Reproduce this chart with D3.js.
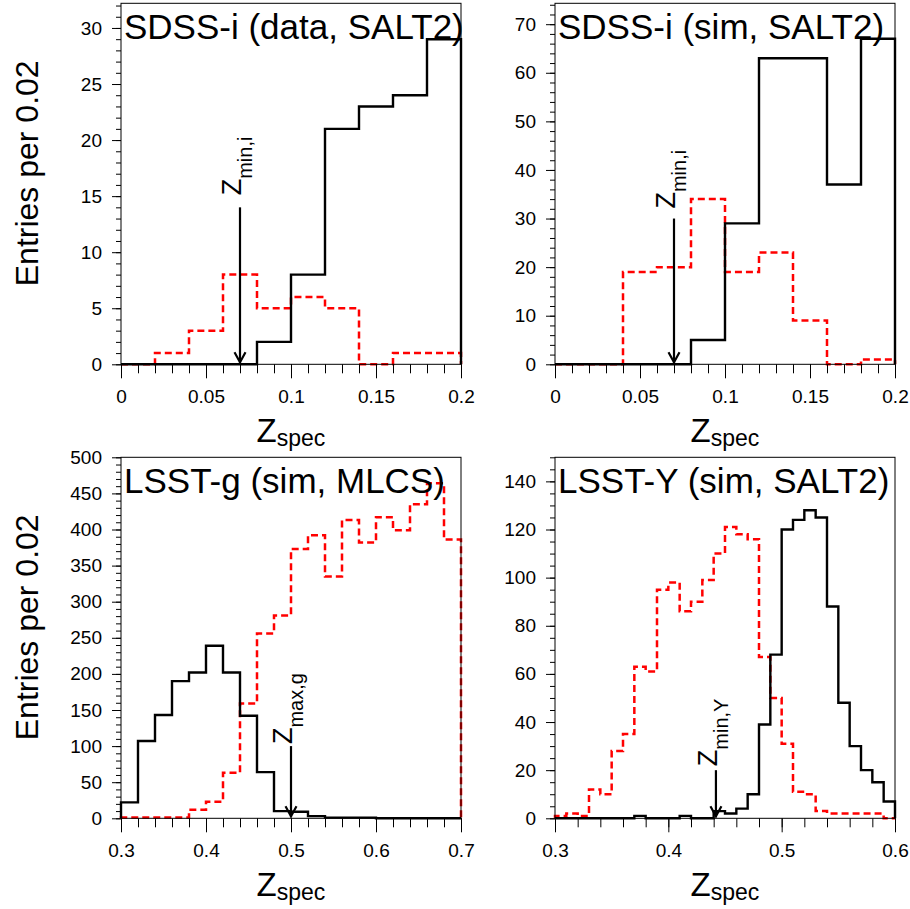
<!DOCTYPE html>
<html><head><meta charset="utf-8">
<script src="https://cdn.jsdelivr.net/npm/d3@7/dist/d3.min.js"></script>
<style>
body{margin:0;background:#fff}
svg{display:block}
text{font-family:"Liberation Sans",Arial,Helvetica,sans-serif;fill:#000}
</style>
</head><body>
<svg id="chart" width="910" height="909"></svg>
<script>
// ---------------- data ----------------
const panelTitles = ["SDSS-i (data, SALT2)", "SDSS-i (sim, SALT2)", "LSST-g (sim, MLCS)", "LSST-Y (sim, SALT2)"];
const xDomains = [[0, 0.2], [0, 0.2], [0.3, 0.7], [0.3, 0.6]];
const yMaxima = [32.2, 74.3, 500, 150];
const binWidths = [0.02, 0.02, 0.02, 0.01];

// black solid histograms
const sdssDataBlack = [0, 0, 0, 0, 2, 8, 21, 23, 24, 29];
const sdssSimBlack  = [0, 0, 0, 0, 5, 29, 63, 63, 37, 67];
const lsstGBlack    = [22, 107, 143, 190, 202, 239, 202, 142, 64, 10, 9, 3, 1, 1, 1, 0, 0, 0, 0, 0];
const lsstYBlack    = [0, 0, 0, 0, 0, 0, 0, 1, 0, 0, 0, 1, 0, 0, 3, 2, 4, 10, 39, 68, 120, 124, 128, 125, 88, 48, 30, 20, 15, 7];
// red dashed histograms
const sdssDataRed = [0, 1, 3, 8, 5, 6, 5, 0, 1, 1];
const sdssSimRed  = [0, 0, 19, 20, 34, 19, 23, 9, 0, 1];
const lsstGRed    = [1, 1, 1, 1, 12, 23, 63, 159, 256, 281, 373, 392, 335, 413, 382, 417, 399, 435, 464, 386];
const lsstYRed    = [1, 2, 1, 12, 10, 28, 35, 63, 61, 95, 98, 86, 90, 99, 110, 121, 118, 116, 67, 50, 31, 11, 10, 3, 2, 2, 2, 2, 2, 0];

// cut arrows
const cutValues = [0.07, 0.07, 0.5, 0.442];
const arrowTops = [14, 30, 100, 20];
const cutSubscripts = ["min,i", "min,i", "max,g", "min,Y"];

// tick labels
const xTicks = [[0, 0.05, 0.1, 0.15, 0.2], [0, 0.05, 0.1, 0.15, 0.2], [0.3, 0.4, 0.5, 0.6, 0.7], [0.3, 0.4, 0.5, 0.6]];
const xMinorSteps = [0.01, 0.01, 0.02, 0.02];
const yTicks = [[0, 5, 10, 15, 20, 25, 30], [0, 10, 20, 30, 40, 50, 60, 70], [0, 50, 100, 150, 200, 250, 300, 350, 400, 450, 500], [0, 20, 40, 60, 80, 100, 120, 140]];
const yMinorSteps = [1, 2, 10, 5];
const yAxisTitle = "Entries per 0.02";
const xAxisTitleMain = "Z";
const xAxisTitleSub = "spec";

const blackSeries = [sdssDataBlack, sdssSimBlack, lsstGBlack, lsstYBlack];
const redSeries = [sdssDataRed, sdssSimRed, lsstGRed, lsstYRed];

// ---------------- layout ----------------
const frames = [
  {x: 121, y: 3.3, w: 340, h: 361},
  {x: 555, y: 3.3, w: 340, h: 361},
  {x: 121, y: 457.3, w: 340, h: 361},
  {x: 555, y: 457.3, w: 340, h: 361}
];
const labelGaps = [12, 10, 2, 4];

const svg = d3.select("#chart");

function minorValues(dom, step) {
  const out = [];
  const n = Math.round((dom[1] - dom[0]) / step);
  for (let i = 0; i <= n; i++) out.push(+(dom[0] + i * step).toFixed(6));
  return out;
}

frames.forEach((f, p) => {
  const g = svg.append("g").attr("transform", `translate(${f.x},${f.y})`);
  const x = d3.scaleLinear().domain(xDomains[p]).range([0, f.w]);
  const y = d3.scaleLinear().domain([0, yMaxima[p]]).range([f.h, 0]);

  const histPoints = (counts) => {
    const pts = [[xDomains[p][0], 0]];
    counts.forEach((c, i) => {
      const a = xDomains[p][0] + i * binWidths[p];
      pts.push([a, c], [a + binWidths[p], c]);
    });
    pts.push([xDomains[p][0] + counts.length * binWidths[p], 0]);
    return pts;
  };
  const line = d3.line().x(d => x(d[0])).y(d => y(d[1]));

  g.append("path").attr("d", line(histPoints(redSeries[p])))
    .attr("fill", "none").attr("stroke", "#ff0000").attr("stroke-width", 2.5)
    .attr("stroke-dasharray", "7,4");
  g.append("path").attr("d", line(histPoints(blackSeries[p])))
    .attr("fill", "none").attr("stroke", "#000").attr("stroke-width", 2.4);

  // frame
  g.append("rect").attr("x", 0).attr("y", 0).attr("width", f.w).attr("height", f.h)
    .attr("fill", "none").attr("stroke", "#000").attr("stroke-width", 1);

  // y axis
  const yMinor = minorValues([0, yMaxima[p]], yMinorSteps[p]).filter(v => v <= yMaxima[p]);
  const gyMin = g.append("g").call(d3.axisLeft(y).tickValues(yMinor).tickSize(5).tickFormat(() => ""));
  gyMin.select(".domain").remove();
  const gy = g.append("g").call(d3.axisLeft(y).tickValues(yTicks[p]).tickSize(9).tickPadding(10).tickFormat(d => String(d)));
  gy.select(".domain").remove();
  gy.selectAll("text").attr("font-size", 19).attr("font-family", "Liberation Sans, Arial, sans-serif").attr("fill", "#000");

  // x axis
  const xMinor = minorValues(xDomains[p], xMinorSteps[p]);
  const gxMin = g.append("g").attr("transform", `translate(0,${f.h})`)
    .call(d3.axisBottom(x).tickValues(xMinor).tickSize(9).tickFormat(() => ""));
  gxMin.select(".domain").remove();
  const gx = g.append("g").attr("transform", `translate(0,${f.h})`)
    .call(d3.axisBottom(x).tickValues(xTicks[p]).tickSize(14).tickPadding(11.5).tickFormat(d => String(d)));
  gx.select(".domain").remove();
  gx.selectAll("text").attr("font-size", 19).attr("font-family", "Liberation Sans, Arial, sans-serif").attr("fill", "#000");
  g.selectAll(".tick line").attr("stroke", "#000");

  // x axis title
  const xt = g.append("text").attr("x", f.w / 2).attr("y", f.h + 78).attr("text-anchor", "middle");
  xt.append("tspan").attr("font-size", 33).text(xAxisTitleMain);
  xt.append("tspan").attr("font-size", 23).attr("dy", 4).text(xAxisTitleSub);

  // panel title
  g.append("text").attr("x", 3).attr("y", 36).attr("font-size", 35).text(panelTitles[p]);

  // cut arrow
  const ax = x(cutValues[p]);
  const y0 = y(0), yTop = y(arrowTops[p]);
  g.append("line").attr("x1", ax).attr("x2", ax).attr("y1", yTop).attr("y2", y0 - 1)
    .attr("stroke", "#000").attr("stroke-width", 2.2);
  g.append("path").attr("d", `M${ax - 5.5},${y0 - 12}L${ax},${y0 - 2}L${ax + 5.5},${y0 - 12}`)
    .attr("fill", "none").attr("stroke", "#000").attr("stroke-width", 2.2);
  const lab = g.append("text")
    .attr("transform", `translate(${ax + 1},${yTop - labelGaps[p]}) rotate(-90)`);
  lab.append("tspan").attr("font-size", 27).text("Z");
  lab.append("tspan").attr("font-size", 20).attr("dy", 11).text(cutSubscripts[p]);
});

// y axis titles
[0, 2].forEach(p => {
  const f = frames[p];
  svg.append("text")
    .attr("transform", `translate(38,${f.y + 170}) rotate(-90)`)
    .attr("text-anchor", "middle").attr("font-size", 32).text(yAxisTitle);
});
</script>
</body></html>
